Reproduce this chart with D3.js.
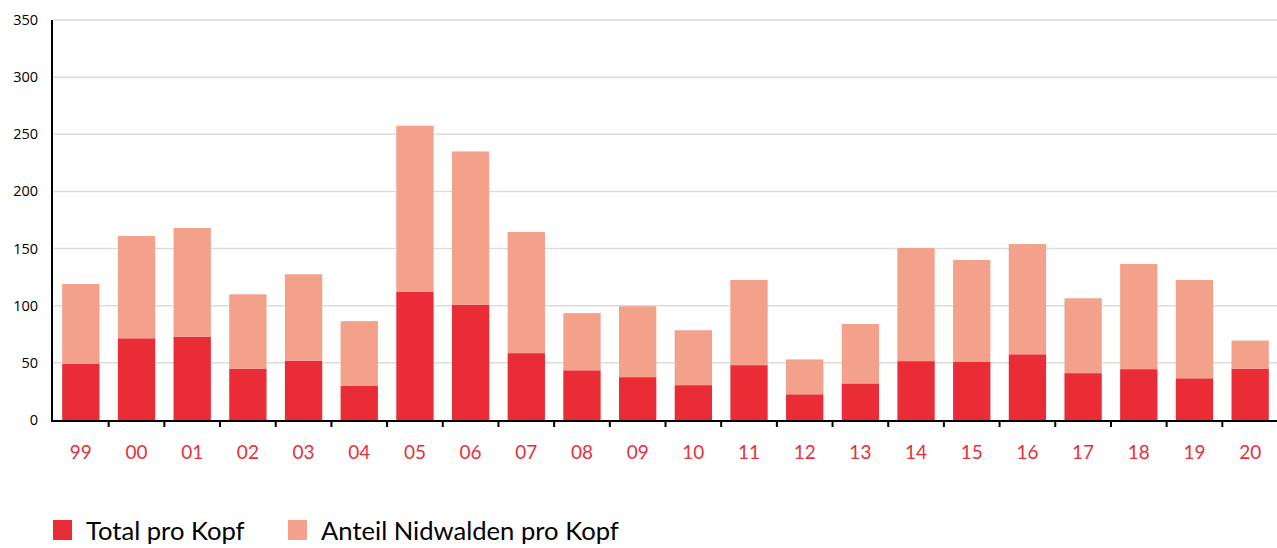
<!DOCTYPE html>
<html lang="de">
<head>
<meta charset="utf-8">
<title>Pro Kopf</title>
<script src="https://cdn.jsdelivr.net/npm/d3@7"></script>
<style>
body { margin: 0; background: #fff; }
.grid line { stroke: #dcdcdc; stroke-width: 1.5; }
.ylab { font-family: "Open Sans", sans-serif; font-size: 14.5px; fill: #000; }
.xlab { font-family: "Lato", sans-serif; font-size: 19px; fill: #e8303a; }
.legend text { font-family: "Lato", sans-serif; font-size: 25.6px; fill: #000; }
</style>
</head>
<body>
<div id="chart"></div>
<script>

var years = ["99","00","01","02","03","04","05","06","07","08","09","10",
             "11","12","13","14","15","16","17","18","19","20"];

// dark lower part
var totalProKopf = [49, 71.5, 73, 45, 52, 30, 112, 101, 58.5, 43.5, 37.5, 30.5,
                    48, 22.5, 32, 51.5, 51, 57.5, 41, 44.5, 36.5, 45];

// light upper part
var anteilNidwalden = [70, 89.5, 95, 65, 75.5, 56.5, 145.5, 134, 106, 50, 62, 48,
                       74.5, 30.5, 52, 99, 89, 96.5, 65.5, 92, 86, 24.5];

var yTicks = [0, 50, 100, 150, 200, 250, 300, 350];

var series = ["Total pro Kopf", "Anteil Nidwalden pro Kopf"];
var colors = ["#e92c36", "#f4a18c"];

var width = 1277, height = 548;
var plot = {left: 53, right: 1278, top: 20, bottom: 420};

var svg = d3.select("#chart").append("svg")
    .attr("width", width)
    .attr("height", height);

var rows = years.map(function(y, i) {
    return {year: y, a: totalProKopf[i], b: anteilNidwalden[i]};
});
var stacked = d3.stack().keys(["a", "b"])(rows);

var x = d3.scaleBand().domain(years).range([plot.left, plot.right])
    .paddingInner(0.33).paddingOuter(0.165);
var y = d3.scaleLinear().domain([0, 350]).range([plot.bottom, plot.top]);

// grid
svg.append("g").attr("class", "grid")
    .selectAll("line")
    .data(yTicks.slice(1))
    .enter().append("line")
        .attr("x1", plot.left).attr("x2", width)
        .attr("y1", function(d) { return y(d); })
        .attr("y2", function(d) { return y(d); });

svg.selectAll(".ylab")
    .data(yTicks)
    .enter().append("text")
        .attr("class", "ylab")
        .attr("x", 38)
        .attr("y", function(d) { return y(d) + 5; })
        .attr("text-anchor", "end")
        .text(function(d) { return d; });

// bars
svg.selectAll(".layer")
    .data(stacked)
    .enter().append("g")
        .attr("class", "layer")
        .attr("fill", function(d, i) { return colors[i]; })
    .selectAll("rect")
    .data(function(d) { return d; })
    .enter().append("rect")
        .attr("x", function(d) { return x(d.data.year); })
        .attr("width", x.bandwidth())
        .attr("y", function(d) { return y(d[1]); })
        .attr("height", function(d) { return y(d[0]) - y(d[1]); });

// axes lines
svg.append("line")
    .attr("x1", plot.left - 1).attr("x2", plot.left - 1)
    .attr("y1", plot.top).attr("y2", plot.bottom + 1)
    .attr("stroke", "#000").attr("stroke-width", 2);
svg.append("line")
    .attr("x1", plot.left - 2).attr("x2", width)
    .attr("y1", plot.bottom + 1).attr("y2", plot.bottom + 1)
    .attr("stroke", "#000").attr("stroke-width", 2);

// ticks between bands
var step = x.step();
svg.selectAll(".tick")
    .data(years.slice(1))
    .enter().append("line")
        .attr("class", "tick")
        .attr("x1", function(d) { return x(d) - step * x.paddingInner() / 2; })
        .attr("x2", function(d) { return x(d) - step * x.paddingInner() / 2; })
        .attr("y1", plot.bottom + 1).attr("y2", plot.bottom + 7)
        .attr("stroke", "#000").attr("stroke-width", 2);

svg.selectAll(".xlab")
    .data(years)
    .enter().append("text")
        .attr("class", "xlab")
        .attr("x", function(d) { return x(d) + x.bandwidth() / 2; })
        .attr("y", 459)
        .attr("text-anchor", "middle")
        .text(function(d) { return d; });

// legend
var legend = svg.append("g").attr("class", "legend");
var legX = [53, 288];
series.forEach(function(s, i) {
    legend.append("rect")
        .attr("x", legX[i]).attr("y", 520)
        .attr("width", 19).attr("height", 20)
        .attr("fill", colors[i]);
    legend.append("text")
        .attr("x", legX[i] + 33).attr("y", 540)
        .text(s);
});

</script>
</body>
</html>
